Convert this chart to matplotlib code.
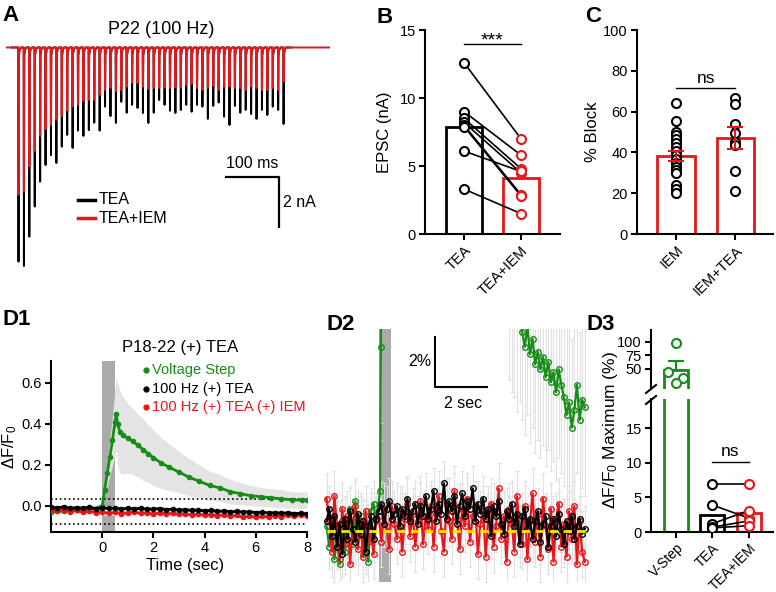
import numpy as np
import matplotlib
matplotlib.use("Agg")
import matplotlib.pyplot as plt
from matplotlib.lines import Line2D

plt.rcParams['font.family'] = ['Liberation Sans', 'DejaVu Sans']
plt.rcParams['mathtext.fontset'] = 'custom'
plt.rcParams['mathtext.rm'] = 'Liberation Sans'
plt.rcParams['mathtext.it'] = 'Liberation Sans:italic'
plt.rcParams['mathtext.bf'] = 'Liberation Sans:bold'

# ---------------- data ----------------
# A: EPSC peak amplitudes (nA) during 100 Hz train, 50 pulses
isi = 10  # ms
train_tea = [8.40, 8.57, 7.42, 6.24, 5.26, 4.61, 4.22, 4.53, 3.89, 3.43,
             3.94, 3.26, 3.47, 3.24, 2.95, 3.26, 2.32, 2.69, 2.96, 2.13,
             2.56, 2.25, 2.37, 2.57, 2.96, 2.56, 2.06, 2.25, 2.48, 2.57,
             2.45, 2.25, 2.52, 2.25, 2.32, 2.80, 2.29, 2.16, 2.71, 3.04,
             2.29, 2.56, 2.45, 2.61, 2.80, 2.45, 2.65, 2.32, 2.45, 3.00]
train_tea_iem = [5.78, 5.65, 4.67, 4.06, 3.47, 3.20, 3.04, 2.84, 2.69, 2.48,
                 2.32, 2.25, 2.10, 2.06, 2.06, 1.86, 1.67, 1.59, 1.73, 1.67,
                 1.54, 1.39, 1.39, 1.54, 1.63, 1.59, 1.59, 1.58, 1.59, 1.56,
                 1.58, 1.47, 1.43, 1.59, 1.67, 1.59, 1.50, 1.67, 1.54, 1.54,
                 1.59, 1.59, 1.67, 1.54, 1.59, 1.67, 1.67, 1.59, 1.67, 1.34]

# B: EPSC amplitude (nA), paired
epsc_labels = ['TEA', 'TEA+IEM']
epsc_tea = [12.6, 9.0, 8.5, 8.2, 8.0, 7.9, 6.1, 3.3]
epsc_iem = [7.0, 5.8, 4.8, 4.5, 2.9, 2.8, 4.6, 1.5]
epsc_mean = [7.9, 4.1]

# C: % block
block_labels = ['IEM', 'IEM+TEA']
block_iem = [64.4, 55.5, 50.2, 48.5, 46.4, 44.4, 42.8, 40.8, 38.7, 36.6,
             34.6, 33.0, 31.4, 29.7, 24.0, 21.9, 20.0]
block_iem_tea = [66.8, 63.7, 53.9, 49.7, 45.3, 43.6, 31.0, 21.2]
block_mean = [38.2, 46.9]
block_sem = [2.4, 5.4]

# D1: dF/F0 time courses
d1_green_t = [-2.0, -1.5, -1.0, -0.5, 0.0, 0.1, 0.2, 0.3, 0.4, 0.5, 0.55, 0.6,
              0.7, 0.8, 1.0, 1.2, 1.4, 1.6, 1.8, 2.0, 2.3, 2.6, 3.0, 3.4, 3.8,
              4.2, 4.6, 5.0, 5.4, 5.8, 6.2, 6.6, 7.0, 7.4, 7.8, 8.0]
d1_green = [-0.03, -0.025, -0.02, -0.02, 0.0, 0.08, 0.16, 0.24, 0.32, 0.41, 0.45,
            0.40, 0.36, 0.345, 0.33, 0.315, 0.295, 0.275, 0.255, 0.235, 0.21,
            0.19, 0.165, 0.14, 0.12, 0.10, 0.088, 0.07, 0.06, 0.05, 0.045,
            0.04, 0.035, 0.03, 0.028, 0.03]
d1_green_sem = [0.01, 0.01, 0.01, 0.01, 0.01, 0.03, 0.06, 0.09, 0.12, 0.16, 0.18,
                0.2, 0.2, 0.19, 0.17, 0.16, 0.155, 0.15, 0.14, 0.135, 0.125,
                0.115, 0.1, 0.09, 0.08, 0.07, 0.065, 0.06, 0.055, 0.05, 0.045,
                0.045, 0.045, 0.04, 0.04, 0.04]
d1_black = [-0.006, -0.010, -0.004, -0.012, -0.008, -0.011, -0.006, -0.013, -0.009, -0.012,
            -0.010, -0.015, -0.011, -0.014, -0.012, -0.016, -0.015, -0.013, -0.018, -0.016,
            -0.020, -0.018, -0.022, -0.020, -0.024, -0.022, -0.026, -0.025, -0.028, -0.027,
            -0.030, -0.029, -0.032, -0.031, -0.034, -0.033, -0.035, -0.034, -0.037, -0.036,
            -0.038]
d1_red = [-0.018, -0.025, -0.020, -0.028, -0.022, -0.030, -0.026, -0.032, -0.030, -0.036,
          -0.031, -0.038, -0.033, -0.030, -0.036, -0.034, -0.040, -0.033, -0.038, -0.036,
          -0.041, -0.038, -0.044, -0.040, -0.046, -0.042, -0.048, -0.043, -0.050, -0.046,
          -0.055, -0.048, -0.056, -0.050, -0.054, -0.047, -0.052, -0.046, -0.050, -0.045,
          -0.047]
d1_train_sem = 0.012

# D2: % of maximum, expanded view
d2_black = [0.4, 0.9, -0.2, 0.6, -0.6, 0.3, -0.9, 0.5, -0.3, 0.8, 0.1, -0.4, 0.7, -0.1, 0.4, -0.8, 0.2, 0.6, -0.3, 0.5,
            0.8, 1.1, 0.3, 0.9, 1.2, 0.5, 0.7, 1.0, 0.2, 0.9, 0.6, 1.3, 0.4, 0.8, 1.1, 0.3, 1.0, 0.6, 1.4, 0.5,
            0.9, 1.6, 0.4, 1.1, 0.7, 1.9, 0.5, 1.2, 0.8, 1.4, 0.3, 1.0, 1.5, 0.6, 1.2, 0.9, 1.7, 0.4, 1.1, 0.7,
            1.3, 0.5, 0.9, -0.2, 1.0, 0.6, 1.2, 0.3, -0.1, 0.8, 0.5, 1.1, 0.2, 0.7, -0.5, 0.6, 0.9, 0.1, 0.5, -0.3,
            0.4, 0.8, -0.4, 0.3, 0.6, -0.6, 0.2, 0.5, -0.2, 0.7, 0.1, -0.5, 0.4, 0.0, 0.6, -0.3, 0.2, 0.5, -0.1, 0.1]
d2_red = [1.3, 0.5, -0.8, 1.4, 0.2, -1.1, 0.9, -0.5, 0.6, -1.3, 0.3, 1.0, -0.7, 0.4, -1.0, 0.8, -0.4, 0.1, -0.9, 0.5,
          0.6, -0.4, 0.9, 0.2, -0.7, 1.0, 0.3, -0.3, 0.8, -0.8, 0.5, 1.1, -0.2, 0.7, -0.6, 0.4, 1.2, -0.5, 0.6, 0.1,
          1.0, -0.6, 0.7, 1.4, 0.0, -0.8, 1.1, 0.4, -0.3, 1.6, 0.5, -0.7, 0.9, 0.2, 1.3, -0.4, 0.6, 1.0, -0.9, 0.3,
          0.8, -1.0, 0.5, 1.1, -0.6, 0.2, 1.7, -0.3, 0.6, -1.2, 0.9, 0.3, -0.8, 1.4, 0.0, -0.5, 1.0, -1.1, 0.4, 1.5,
          -0.4, 0.7, -1.0, 1.3, 0.2, -0.7, 0.9, -1.2, 0.5, 1.1, -0.6, 0.3, -1.0, 0.8, -0.3, 1.0, -1.3, 0.4, -0.8, -1.2]
d2_black_sem = 0.9
d2_red_sem = 1.0
d2_green_t = [-2.0, -1.9, -1.8, -1.7, -1.6, -1.5, -1.4, -1.3, -1.2, -1.1,
              -1.0, -0.9, -0.8, -0.7, -0.6, -0.5, -0.4, -0.3, -0.2, -0.1,
              0.05, 0.08, 0.12, 0.2, 0.3, 0.4, 0.55, 1.0, 2.0, 3.0, 4.0,
              5.0, 5.1, 5.2, 5.3, 5.4, 5.5, 5.6, 5.7, 5.8, 5.9,
              6.0, 6.1, 6.2, 6.3, 6.4, 6.5, 6.6, 6.7, 6.8, 6.9,
              7.0, 7.1, 7.2, 7.3, 7.4, 7.5, 7.6, 7.7, 7.8, 7.9]
d2_green = [0.2, -0.6, 0.5, -1.1, -0.3, -1.3, 0.4, -0.8, 0.1, 0.9,
            -0.5, 1.2, -0.2, 0.6, -0.9, 0.3, -1.2, 0.8, 1.1, 0.4,
            1.6, 7.3, 20, 40, 55, 75, 100, 73, 52, 37, 25,
            9.5, 9.0, 8.8, 8.2, 8.6, 7.9, 7.3, 8.1, 7.0, 7.6,
            6.6, 7.1, 6.4, 6.9, 6.1, 6.7, 5.9, 6.3, 5.5, 6.4,
            5.8, 5.3, 4.6, 5.1, 4.1, 4.8, 5.8, 4.4, 5.2, 4.9]
d2_green_sem = [0.9] * 20 + [2.0, 3.0, 6, 10, 14, 18, 22, 20, 16, 12, 8] + [3.5] * 30

# D3: % of maximum
d3_labels = ['V-Step', 'TEA', 'TEA+IEM']
d3_vstep = [98, 44, 32, 23]
d3_vstep_mean = 47.5
d3_vstep_sem = 17
d3_tea = [7.0, 3.9, 1.2, 0.7, 0.6]
d3_tea_iem = [7.0, 2.0, 3.1, 1.6, 0.9]
d3_mean = [2.45, 2.8]

# ---------------- layout helpers ----------------
W, H = 776, 592
GREEN = '#178c17'
RED = '#e8161b'
SHADE = '#aaaaaa'
TICK_FS = 10.5

fig = plt.figure(figsize=(W / 100, H / 100), dpi=100)


def rect(x0, y0, x1, y1):
    return [x0 / W, 1 - y1 / H, (x1 - x0) / W, (y1 - y0) / H]


def ftext(x, y, s, **kw):
    fig.text(x / W, 1 - y / H, s, **kw)


def style(ax):
    for s in ['top', 'right']:
        ax.spines[s].set_visible(False)
    for s in ['left', 'bottom']:
        ax.spines[s].set_linewidth(1.5)
    ax.tick_params(width=1.5, length=4.5, labelsize=TICK_FS, pad=2)


def rot_labels(ax, labels, fs=TICK_FS):
    ax.set_xticklabels(labels, rotation=45, ha='right', rotation_mode='anchor',
                       fontsize=fs)


# panel letters
for lab, x, y in [('A', 2, 21), ('B', 376, 23), ('C', 585, 22),
                  ('D1', 2, 325), ('D2', 327, 330), ('D3', 586, 330)]:
    ftext(x, y, lab, fontsize=16, fontweight='bold', va='baseline')

# ---------------- A ----------------
axA = fig.add_axes(rect(0, 30, 330, 280))
axA.set_xlim(-33.8, 576.2)
axA.set_ylim(-9.12, 0.686)
axA.axis('off')


def train_path(amps, t_start, t_stop):
    t = [t_start]
    v = [0.0]
    for i, a in enumerate(amps):
        ti = i * isi
        t += [ti, ti + 0.4, ti + 1.0, ti + 2.5, ti + 5.0]
        v += [0.0, -a, -0.3, -0.08, 0.0]
    t.append(t_stop)
    v.append(0.0)
    return t, v


tb, vb = train_path(train_tea, -12, 505)
tr, vr = train_path(train_tea_iem, -21, 576)
axA.plot(tb, vb, color='black', lw=1.4)
axA.plot(tr, vr, color=RED, lw=1.4)
# scale bar
axA.plot([382, 482, 482], [-5.07, -5.07, -7.07], color='black', lw=1.6,
         solid_capstyle='butt')
axA.text(432, -4.85, '100 ms', ha='center', va='bottom', fontsize=11.5)
axA.text(490, -6.07, '2 nA', ha='left', va='center', fontsize=11.5)
# legend
axA.plot([110, 142], [-5.98, -5.98], color='black', lw=2.5)
axA.plot([110, 142], [-6.69, -6.69], color=RED, lw=2.5)
axA.text(148, -5.98, 'TEA', ha='left', va='center', fontsize=11.5)
axA.text(148, -6.69, 'TEA+IEM', ha='left', va='center', fontsize=11.5)
ftext(161, 34, 'P22 (100 Hz)', ha='center', va='baseline', fontsize=13)

# ---------------- B ----------------
axB = fig.add_axes(rect(425, 30, 560, 234))
style(axB)
axB.set_xlim(-0.684, 1.684)
axB.set_ylim(0, 15)
axB.bar([0], [epsc_mean[0]], width=0.63, facecolor='white', edgecolor='black', lw=2)
axB.bar([1], [epsc_mean[1]], width=0.63, facecolor='white', edgecolor=RED, lw=2)
for a, b in zip(epsc_tea, epsc_iem):
    axB.plot([0, 1], [a, b], color='black', lw=1.2, zorder=3)
axB.plot([0] * len(epsc_tea), epsc_tea, 'o', ms=6.5, mfc='white', mec='black', mew=1.5, zorder=4)
axB.plot([1] * len(epsc_iem), epsc_iem, 'o', ms=6.5, mfc='white', mec=RED, mew=1.5, zorder=4)
axB.plot([0, 1], [14.0, 14.0], color='black', lw=1)
axB.text(0.5, 13.85, '***', ha='center', va='baseline', fontsize=14)
axB.set_yticks([0, 5, 10, 15])
axB.set_xticks([0, 1])
rot_labels(axB, epsc_labels)
axB.set_ylabel('EPSC (nA)', fontsize=12)
axB.yaxis.set_label_coords(-0.245, 0.5)

# ---------------- C ----------------
axC = fig.add_axes(rect(637, 30, 773, 234))
style(axC)
axC.set_xlim(-0.66, 1.64)
axC.set_ylim(0, 100)
axC.bar([0, 1], block_mean, width=0.63, facecolor='white', edgecolor=RED, lw=2)
axC.plot([0] * len(block_iem), block_iem, 'o', ms=6.5, mfc='white', mec='black', mew=1.5, zorder=3)
axC.plot([1] * len(block_iem_tea), block_iem_tea, 'o', ms=6.5, mfc='white', mec='black', mew=1.5, zorder=3)
axC.errorbar([0, 1], block_mean, yerr=block_sem, fmt='none', ecolor=RED, elinewidth=1.5,
             capsize=6, capthick=1.5, zorder=4)
axC.plot([0, 1], [71.6, 71.6], color='black', lw=1)
axC.text(0.5, 73.9, 'ns', ha='center', va='baseline', fontsize=12.5)
axC.set_yticks([0, 20, 40, 60, 80, 100])
axC.set_xticks([0, 1])
rot_labels(axC, block_labels)
axC.set_ylabel('% Block', fontsize=12)
axC.yaxis.set_label_coords(-0.27, 0.5)

# ---------------- D1 ----------------
axD1 = fig.add_axes(rect(51, 361, 307, 532))
style(axD1)
axD1.set_xlim(-2, 8)
axD1.set_ylim(-0.127, 0.707)
axD1.axvspan(0, 0.5, color=SHADE, lw=0, zorder=0)
d1_grid = np.linspace(-2, 8, len(d1_black))
g_lo = np.array(d1_green) - np.array(d1_green_sem)
g_hi = np.array(d1_green) + np.array(d1_green_sem)
axD1.fill_between(d1_green_t, g_lo, g_hi, color='#e4e4e4', lw=0, zorder=1)
axD1.fill_between(d1_grid, np.array(d1_red) - d1_train_sem, np.array(d1_black) + d1_train_sem,
                  color='#e4e4e4', lw=0, zorder=1)
axD1.axhline(0.033, color='black', ls=':', lw=1.2, zorder=2)
axD1.axhline(-0.088, color='black', ls=':', lw=1.2, zorder=2)
axD1.plot(d1_green_t, d1_green, color=GREEN, lw=2, marker='o', ms=3, zorder=3)
axD1.plot(d1_grid, d1_red, color=RED, lw=2, marker='o', ms=3, zorder=4)
axD1.plot(d1_grid, d1_black, color='black', lw=2, marker='o', ms=3, zorder=5)
axD1.set_xticks([0, 2, 4, 6, 8])
axD1.set_yticks([0, 0.2, 0.4, 0.6])
axD1.set_yticklabels(['0.0', '0.2', '0.4', '0.6'])
axD1.set_xlabel('Time (sec)', fontsize=12)
axD1.xaxis.set_label_coords(0.523, -0.15)
axD1.set_ylabel('ΔF/F$_0$', fontsize=12)
axD1.yaxis.set_label_coords(-0.125, 0.5)
ftext(180, 352, 'P18-22 (+) TEA', ha='center', va='baseline', fontsize=12)
for lab, c, y in [('Voltage Step', GREEN, 370), ('100 Hz (+) TEA', 'black', 388.5),
                  ('100 Hz (+) TEA (+) IEM', RED, 407)]:
    fig.add_artist(Line2D([145.7 / W], [1 - y / H], marker='o', ms=3.5, color=c, lw=0))
    ftext(152.5, y, lab, color=c, ha='left', va='center', fontsize=10.5)

# ---------------- D2 ----------------
axD2 = fig.add_axes(rect(324, 329, 590, 582))
axD2.set_xlim(-2.1, 8.1)
axD2.set_ylim(-2, 8)
axD2.axis('off')
axD2.axvspan(0, 0.46, color=SHADE, lw=0, zorder=0)
d2_grid = np.linspace(-2, 7.9, len(d2_black))
for tt, vv, ee in [(d2_green_t, d2_green, d2_green_sem),
                   (d2_grid, d2_red, d2_red_sem),
                   (d2_grid, d2_black, d2_black_sem)]:
    axD2.errorbar(tt, vv, yerr=ee, fmt='none', ecolor='#e0e0e0',
                  elinewidth=0.8, capsize=1.5, capthick=0.8, zorder=1)
axD2.plot(d2_green_t, d2_green, color=GREEN, lw=1.6, marker='o', ms=4, mfc='none', mew=1, zorder=2)
axD2.plot(d2_grid, d2_red, color=RED, lw=1.6, marker='o', ms=4, mfc='none', mew=1, zorder=3)
axD2.plot(d2_grid, d2_black, color='black', lw=1.6, marker='o', ms=4, mfc='none', mew=1, zorder=4)
axD2.plot([-2, 8], [0, 0], color='#ffe100', lw=2, dashes=(3, 2), zorder=5)
axD2.plot([2.16, 2.16, 4.16], [7.69, 5.69, 5.69], color='black', lw=1.5, zorder=6)
axD2.text(2.0, 6.7, '2%', ha='right', va='center', fontsize=11.5)
axD2.text(3.25, 5.35, '2 sec', ha='center', va='top', fontsize=11.5)

# ---------------- D3 ----------------
axU = fig.add_axes(rect(651, 330, 773, 389))
axL = fig.add_axes(rect(651, 399, 773, 532))
for ax in (axU, axL):
    style(ax)
    ax.set_xlim(-0.69, 2.67)
    ax.bar([0], [d3_vstep_mean], width=0.66, facecolor='white', edgecolor=GREEN, lw=2)
axU.spines['bottom'].set_visible(False)
axU.set_xticks([])
axU.set_ylim(12.4, 121.7)
axU.set_yticks([50, 75, 100])
axU.errorbar([0], [d3_vstep_mean], yerr=[[0], [d3_vstep_sem]], fmt='none', ecolor=GREEN,
             elinewidth=1.5, capsize=6, capthick=1.5)
vstep_dx = [0, -0.22, 0.2, 0]
axU.plot(np.array(vstep_dx), d3_vstep, 'o', ms=6.5, mfc='white', mec=GREEN, mew=1.5, zorder=3)

axL.set_ylim(0, 19.2)
axL.set_yticks([0, 5, 10, 15])
axL.bar([1], [d3_mean[0]], width=0.66, facecolor='white', edgecolor='black', lw=2)
axL.bar([2], [d3_mean[1]], width=0.66, facecolor='white', edgecolor=RED, lw=2)
for a, b in zip(d3_tea, d3_tea_iem):
    axL.plot([1, 2], [a, b], color='black', lw=1.2, zorder=3)
axL.plot([1] * len(d3_tea), d3_tea, 'o', ms=6.5, mfc='white', mec='black', mew=1.5, zorder=4)
axL.plot([2] * len(d3_tea_iem), d3_tea_iem, 'o', ms=6.5, mfc='white', mec=RED, mew=1.5, zorder=4)
axL.plot([1, 2], [10.1, 10.1], color='black', lw=1)
axL.text(1.5, 10.9, 'ns', ha='center', va='baseline', fontsize=12.5)
axL.set_xticks([0, 1, 2])
rot_labels(axL, d3_labels, fs=10)
# axis break marks
fig.add_artist(Line2D([646 / W, 656 / W], [1 - 393 / H, 1 - 385 / H], color='black', lw=1.5))
fig.add_artist(Line2D([646 / W, 656 / W], [1 - 404 / H, 1 - 396 / H], color='black', lw=1.5))
ftext(611, 430, 'ΔF/F$_0$ Maximum (%)', rotation=90, ha='center', va='center', fontsize=12.5)

fig.savefig('out.png', dpi=100)
